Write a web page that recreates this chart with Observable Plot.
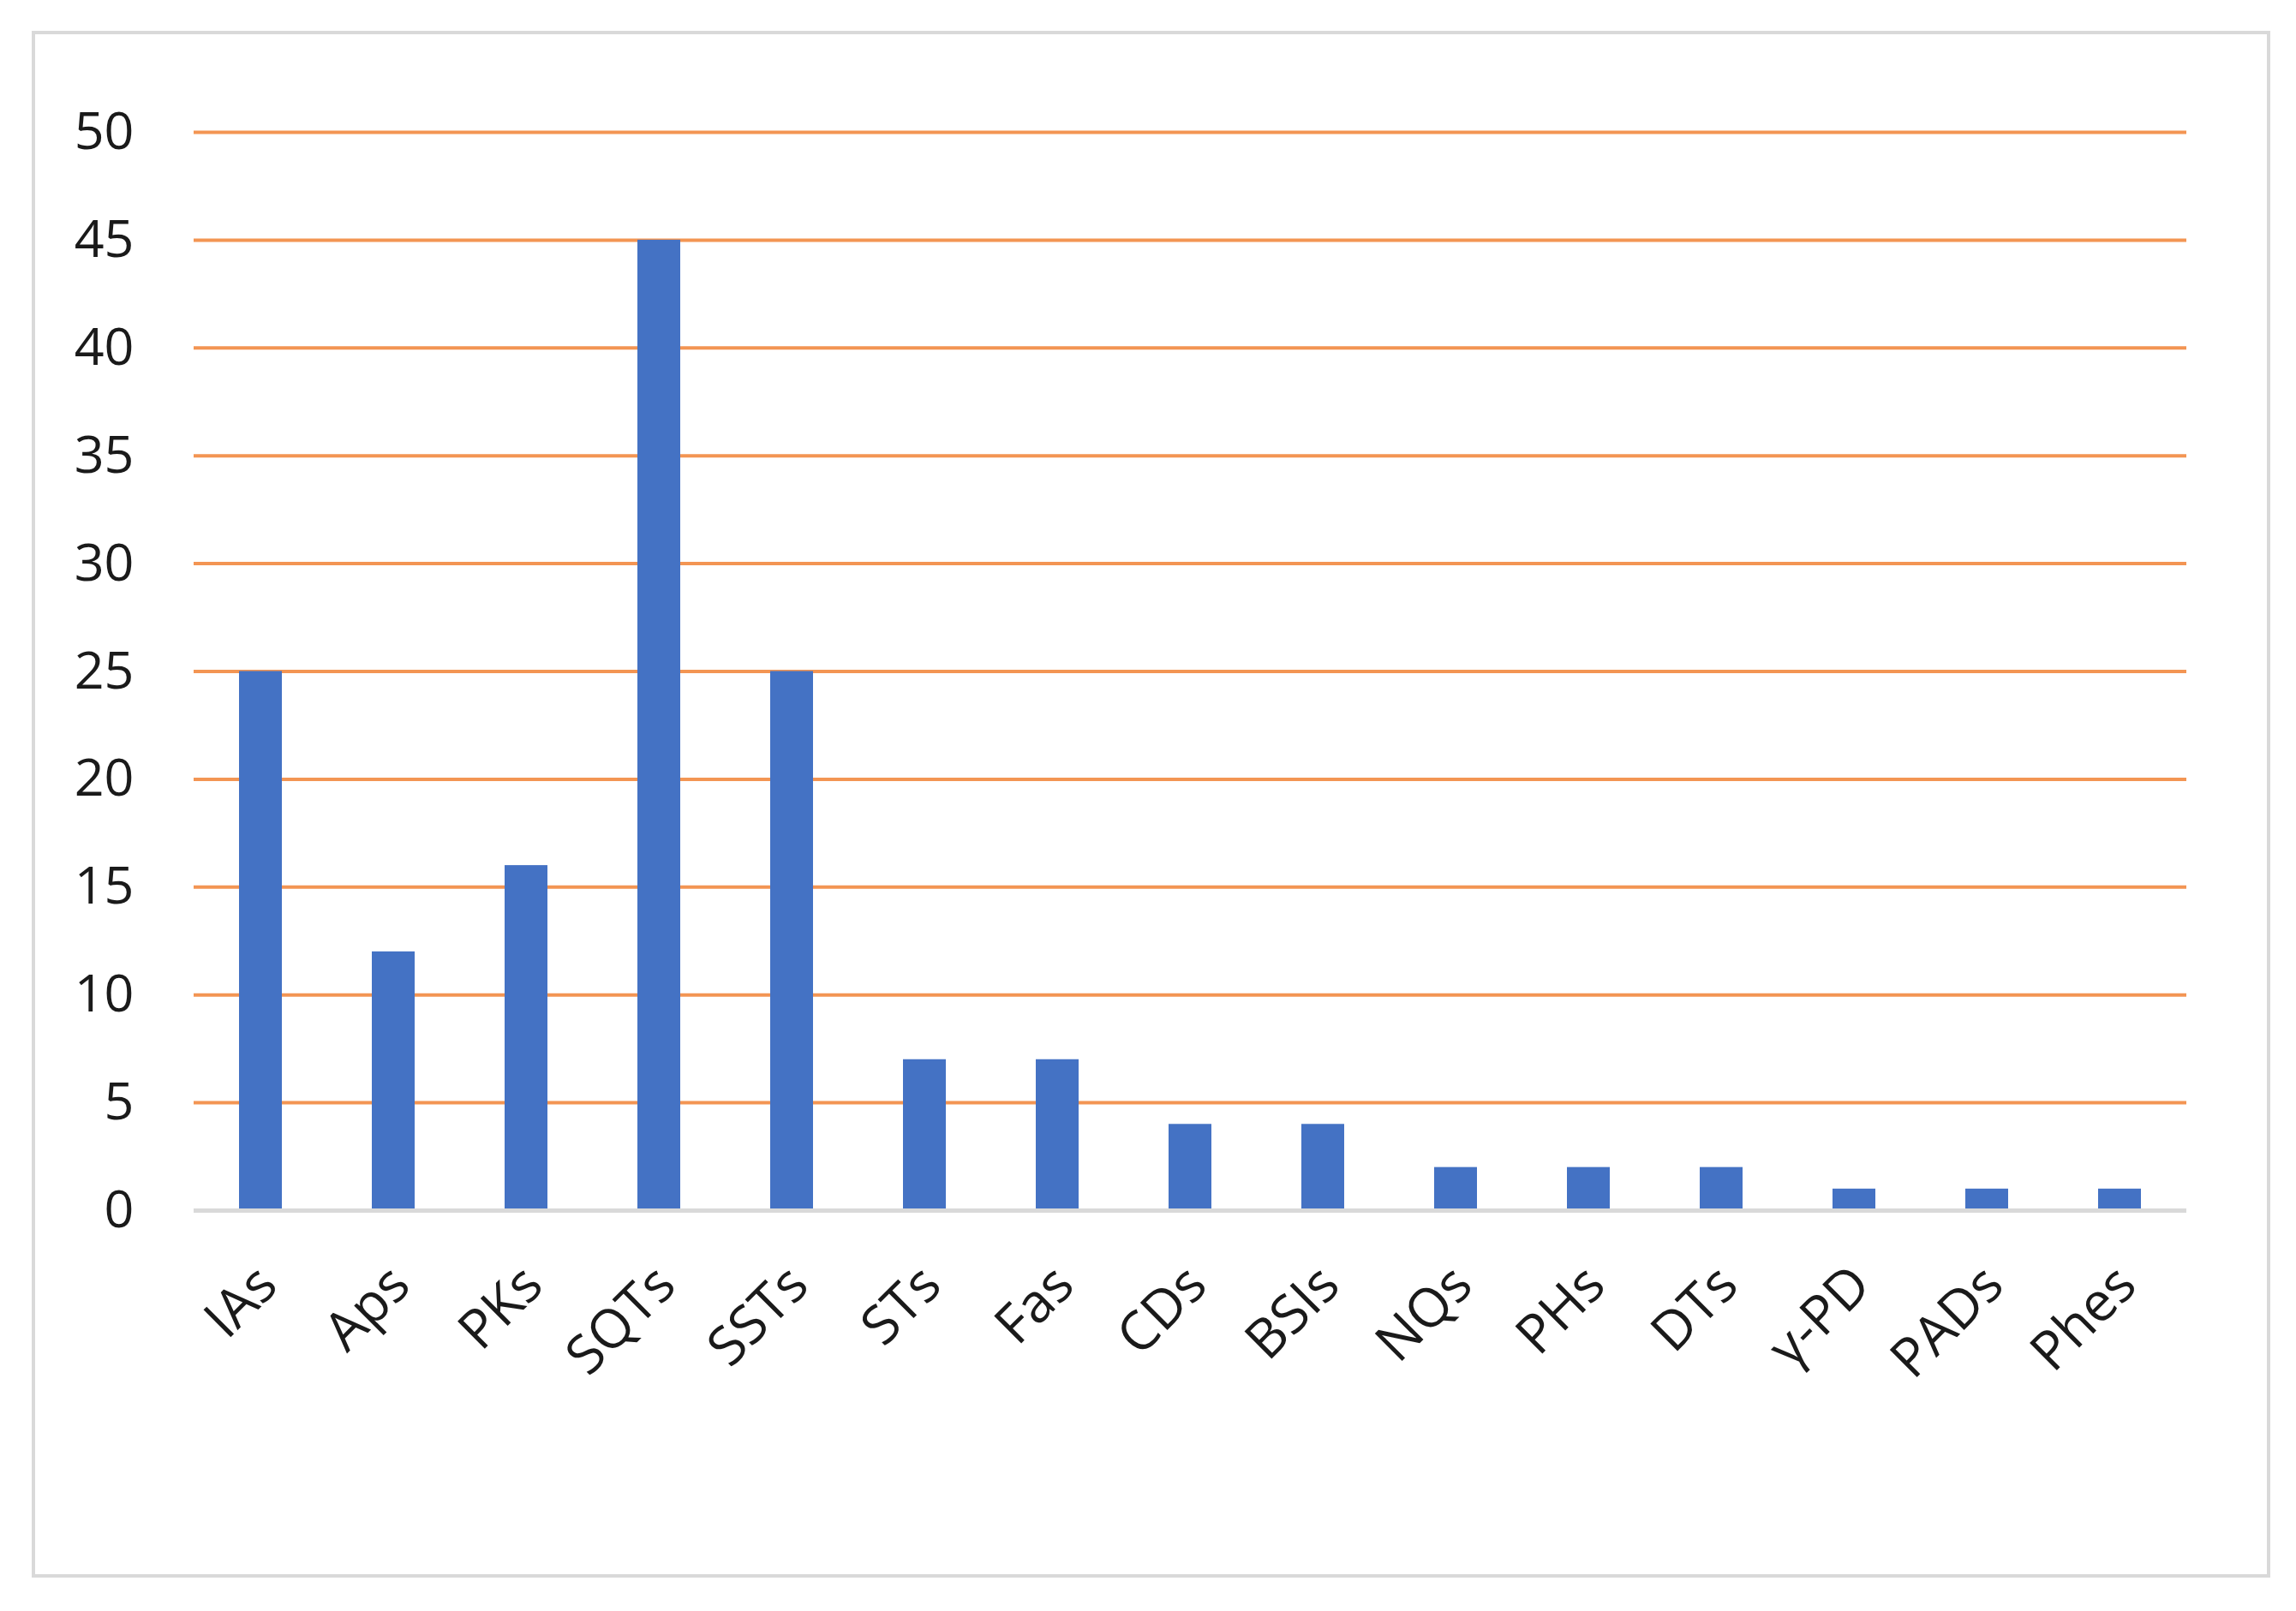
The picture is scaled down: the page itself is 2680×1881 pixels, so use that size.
<!DOCTYPE html>
<html><head><meta charset="utf-8">
<script src="https://cdn.jsdelivr.net/npm/d3@7"></script>
<script src="https://cdn.jsdelivr.net/npm/@observablehq/plot@0.6"></script>
<style>
html,body{margin:0;padding:0;background:#fff;}
#wrap{position:relative;width:2680px;height:1881px;background:#fff;}
#frame{position:absolute;left:37px;top:36px;width:2613px;height:1806px;border:4px solid #d9d9d9;box-sizing:border-box;pointer-events:none;}
</style></head><body><div id="wrap"></div>
<script>
const categories = ["IAs","Aps","PKs","SQTs","SSTs","STs","Fas","CDs","BSIs","NQs","PHs","DTs","γ-PD","PADs","Phes"];
const values = [25,12,16,45,25,7,7,4,4,2,2,2,1,1,1];
const yTicks = [0,5,10,15,20,25,30,35,40,45,50];

const data = categories.map((c,i)=>({category:c, value:values[i]}));

const chart = Plot.plot({
  width:2680, height:1881,
  marginLeft:226, marginRight:128, marginTop:154, marginBottom:468,
  style:{fontFamily:"'Open Sans', 'Noto Sans', sans-serif", fontSize:"60px", color:"#1a1a1a", background:"#fff"},
  x:{domain:categories, paddingInner:0.68, paddingOuter:0.34, label:null},
  y:{domain:[0,50], label:null},
  marks:[
    Plot.ruleY(yTicks.filter(t=>t>0), {stroke:"#F39553", strokeWidth:4}),
    Plot.barY(data, {x:"category", y:"value", fill:"#4472C4"}),
    Plot.ruleY([0], {stroke:"#d9d9d9", strokeWidth:5}),
    Plot.axisY({ticks:yTicks, tickSize:0, tickPadding:70, label:null, fontSize:61}),
    Plot.axisX({tickSize:0, tickRotate:-45, tickPadding:76, dx:8, label:null, fontSize:63})
  ]
});
const wrap = document.getElementById("wrap");
wrap.appendChild(chart);
const fr = document.createElement("div");
fr.id = "frame";
wrap.appendChild(fr);
</script>
</body></html>
